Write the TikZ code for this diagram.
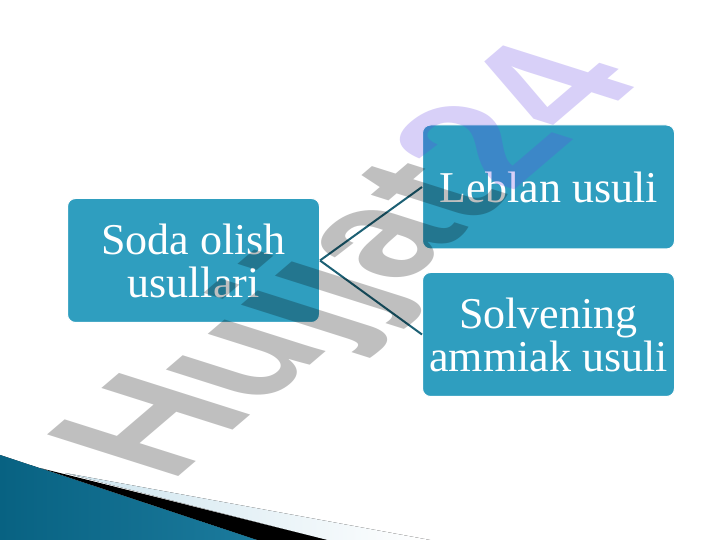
\documentclass[tikz,border=0pt]{standalone}
\usepackage{fontspec}
\setmainfont{Liberation Serif}
\newfontfamily\markfont{Liberation Sans}
\usetikzlibrary{positioning}

\definecolor{boxblue}{RGB}{47,158,191}
\definecolor{linkblue}{RGB}{28,96,116}
\definecolor{marklilac}{RGB}{100,68,228}
\definecolor{swooshdark}{RGB}{8,98,130}
\definecolor{swooshlight}{RGB}{72,180,220}
\definecolor{stripblue}{RGB}{205,228,238}

\begin{document}
\begin{tikzpicture}[
    x=1pt, y=1pt,
    method/.style={rectangle, draw=white, line width=1pt, fill=boxblue, text=white, rounded corners=8pt, minimum width=252pt, minimum height=124pt, align=center, inner sep=0pt, font=\fontsize{44}{43}\selectfont},
    link/.style={draw=linkblue, line width=2pt},
    watermark/.style={font=\markfont\bfseries\fontsize{100}{100}\selectfont, text=black, text opacity=0.25, inner sep=0pt, anchor=base west, transform shape}
]
\useasboundingbox (0,0) rectangle (720,540);
\fill[white] (0,0) rectangle (720,540);

% swoosh in the corner
\fill[left color=stripblue, right color=white] (65,67) -- (430,0) -- (327,0) -- cycle;
\fill[black] (40,72) -- (327,0) -- (257,0) -- cycle;
\fill[left color=swooshdark, middle color=swooshlight, right color=swooshdark!70!swooshlight] (0,85) -- (257,0) -- (0,0) -- cycle;

% boxes
\node[method] (soda) at (193.5,279.5) {Soda olish\\usullari};
\node[method] (leblan) at (548.5,353) {Leblan usuli};
\node[method] (solvay) at (548.5,205.5) {Solvening\\ammiak usuli};

\draw[link] (soda.east) -- (leblan.west);
\draw[link] (soda.east) -- (solvay.west);

% watermark
\begin{scope}[shift={(170.5,56)}, cm={1.224,1.046,-1.907,0.605,(0,0)}]
\node[watermark] (mark) at (0,0) {Hujjat\textcolor{marklilac}{24}};
\end{scope}

\end{tikzpicture}
\end{document}
